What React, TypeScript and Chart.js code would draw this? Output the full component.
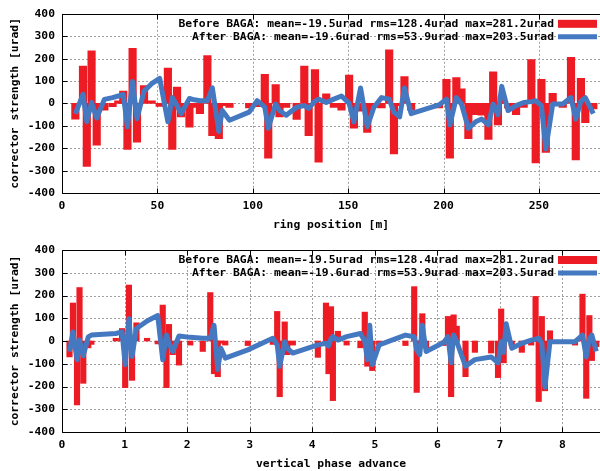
import React, { useEffect, useRef } from 'react';
import { Chart, registerables } from 'chart.js';

Chart.register(...registerables);

// corrector positions along the ring [m]
const ringPosition = [
  7.0, 11.0, 13.0, 15.5, 18.2, 22.2, 26.5, 29.5, 32.1, 34.3,
  37.0, 39.3, 43.0, 47.0, 51.2, 55.5, 57.8, 60.3, 62.4, 66.8,
  69.3, 72.3, 76.2, 78.8, 82.2, 84.0, 87.8, 98.1, 102.3, 106.3,
  108.1, 112.0, 114.0, 117.5, 123.0, 127.0, 129.3, 132.6, 134.5, 138.5,
  142.5, 146.5, 150.5, 153.0, 156.5, 160.0, 163.5, 167.5, 171.5, 174.0,
  177.0, 179.5, 183.0, 197.6, 201.5, 203.3, 206.7, 209.4, 213.0, 216.8,
  220.0, 223.5, 226.0, 228.5, 230.5, 233.8, 238.0, 242.0, 246.0, 248.3,
  251.3, 253.6, 257.2, 262.5, 266.8, 269.3, 272.0, 274.3, 278.5,
];

// vertical phase advance at each corrector
const phaseAdvance = [
  0.12, 0.175, 0.24, 0.28, 0.34, 0.42, 0.47, 0.86, 0.96, 1.01,
  1.07, 1.12, 1.19, 1.36, 1.53, 1.61, 1.67, 1.71, 1.77, 1.87,
  2.05, 2.25, 2.37, 2.43, 2.49, 2.54, 2.61, 2.97, 3.37, 3.44,
  3.48, 3.56, 3.6, 3.69, 4.09, 4.22, 4.26, 4.30, 4.33, 4.41,
  4.55, 4.77, 4.84, 4.88, 4.92, 4.96, 5.07, 5.49, 5.63, 5.67,
  5.72, 5.76, 5.82, 6.1, 6.17, 6.22, 6.26, 6.31, 6.45, 6.6,
  6.86, 6.97, 7.02, 7.06, 7.1, 7.19, 7.35, 7.5, 7.57, 7.62,
  7.67, 7.72, 7.8, 8.2, 8.32, 8.38, 8.43, 8.47, 8.54,
];

// corrector strength before BAGA [urad]
const strengthBefore = [
  -70, 167, -281, 235, -186, -30, -15, 12, 55, -205,
  246, -173, 80, 12, -13, 158, -205, 73, -60, -106,
  -18, -46, 213, -144, -157, -10, -18, -20, -15, 130,
  -245, 84, -60, -18, -72, 167, -144, 151, -262, 43,
  -18, -30, 127, -111, -35, -130, -18, -20, 239, -226,
  -10, 120, -30, -20, 108, -245, 115, 65, -157, -50,
  -53, -161, 141, -96, 30, -20, -50, -18, 196, -266,
  108, -219, 45, -18, 206, -252, 112, -86, -25,
];

// corrector strength after BAGA [urad]
const strengthAfter = [
  -46, 40, -82, 4, -65, 18, 26, 33, 40, -104,
  98, -68, 55, 88, 112, -82, 26, -10, -46, 22,
  16, 12, 12, 69, -125, -32, -75, -39, 12, -17,
  -111, -3, -32, -53, -17, -10, -22, 10, 19, 4,
  19, 33, 0, -82, 69, -104, -17, 26, 19, -40,
  -60, 69, -46, -7, 19, -96, 26, -3, -111, -82,
  -70, -96, -3, -50, 76, -32, -10, 4, 8, 12,
  -10, -203, -3, -3, 26, -70, 10, 26, -46,
];

const seriesLabels = [
  'Before BAGA: mean=-19.5urad rms=128.4urad max=281.2urad',
  'After BAGA: mean=-19.6urad rms=53.9urad max=203.5urad',
];
const yAxisTitle = 'corrector strength [urad]';
const topXTitle = 'ring position [m]';
const bottomXTitle = 'vertical phase advance';
const yRange = [-400, 400];
const yStep = 100;
const topXRange = [0, 282];
const topXStep = 50;
const bottomXRange = [0, 8.6];
const bottomXStep = 1;

const RED = '#ed1c24';
const BLUE = '#4479c1';
const FONT_FAMILY = '"DejaVu Sans Mono", monospace';
const FONT = { family: FONT_FAMILY, size: 11.35, weight: 'bold' as const, lineHeight: 1.2 };

const gnuplotDecor = {
  id: 'gnuplotDecor',
  beforeDatasetsDraw(chart: any) {
    const { ctx, chartArea: a, scales } = chart;
    ctx.save();
    ctx.strokeStyle = '#a0a0a0';
    ctx.lineWidth = 1;
    ctx.setLineDash([2, 2]);
    ctx.beginPath();
    for (const t of scales.x.ticks) {
      const px = Math.round(scales.x.getPixelForValue(t.value)) + 0.5;
      ctx.moveTo(px, a.top);
      ctx.lineTo(px, a.bottom);
    }
    for (const t of scales.y.ticks) {
      const py = Math.round(scales.y.getPixelForValue(t.value)) + 0.5;
      ctx.moveTo(a.left, py);
      ctx.lineTo(a.right, py);
    }
    ctx.stroke();
    ctx.restore();
  },
  afterDatasetsDraw(chart: any) {
    const { ctx, chartArea: a, scales } = chart;
    const L = Math.round(a.left) + 0.5;
    const T = Math.round(a.top) + 0.5;
    const B = Math.round(a.bottom) + 0.5;
    const R = a.right + 2;
    ctx.save();
    ctx.setLineDash([]);
    ctx.strokeStyle = '#000';
    ctx.lineWidth = 1;
    ctx.beginPath();
    ctx.moveTo(R, T);
    ctx.lineTo(L, T);
    ctx.lineTo(L, B);
    ctx.lineTo(R, B);
    for (const t of scales.y.ticks) {
      const py = Math.round(scales.y.getPixelForValue(t.value)) + 0.5;
      ctx.moveTo(L, py);
      ctx.lineTo(L + 5, py);
    }
    for (const t of scales.x.ticks) {
      const px = Math.round(scales.x.getPixelForValue(t.value)) + 0.5;
      ctx.moveTo(px, B);
      ctx.lineTo(px, B - 5);
      ctx.moveTo(px, T);
      ctx.lineTo(px, T + 5);
    }
    ctx.stroke();

    // key
    const ds = chart.data.datasets;
    const bars = ds.find((d: any) => d.type === 'bar');
    const line = ds.find((d: any) => d.type === 'line');
    const textRight = a.right - 46;
    const sx0 = a.right - 42;
    const sx1 = a.right - 3;
    ctx.font = `bold ${FONT.size}px ${FONT_FAMILY}`;
    ctx.fillStyle = '#000';
    ctx.textAlign = 'right';
    ctx.textBaseline = 'middle';
    const y1 = a.top + 10;
    const y2 = a.top + 23;
    ctx.fillText(bars.label, textRight, y1);
    ctx.fillText(line.label, textRight, y2);
    ctx.fillStyle = bars.backgroundColor;
    ctx.fillRect(sx0, y1 - 4, sx1 - sx0, 8);
    ctx.strokeStyle = line.borderColor;
    ctx.lineWidth = line.borderWidth;
    ctx.beginPath();
    ctx.moveTo(sx0, y2);
    ctx.lineTo(sx1, y2);
    ctx.stroke();
    ctx.restore();
  },
};

function makeConfig(
  xs: number[],
  xRange: number[],
  xStep: number,
  xTitle: string,
  barW: number,
  padTop: number,
  axisH: number,
  titlePadBottom: number,
): any {
  return {
    type: 'bar',
    data: {
      datasets: [
        {
          type: 'line',
          label: seriesLabels[1],
          data: xs.map((x, i) => ({ x, y: strengthAfter[i] })),
          borderColor: BLUE,
          borderWidth: 5,
          borderJoinStyle: 'round',
          pointRadius: 0,
          tension: 0,
          fill: false,
          order: 0,
        },
        {
          type: 'bar',
          label: seriesLabels[0],
          data: xs.map((x, i) => ({ x, y: strengthBefore[i] })),
          backgroundColor: RED,
          borderWidth: 0,
          barThickness: barW,
          order: 1,
        },
      ],
    },
    options: {
      responsive: false,
      maintainAspectRatio: false,
      animation: false,
      events: [],
      layout: { padding: { top: padTop, left: 0, right: 0, bottom: 0 } },
      plugins: { legend: { display: false }, tooltip: { enabled: false }, title: { display: false } },
      scales: {
        x: {
          type: 'linear',
          min: xRange[0],
          max: xRange[1],
          offset: false,
          grid: { display: false, drawTicks: false },
          border: { display: false },
          ticks: {
            stepSize: xStep,
            includeBounds: false,
            autoSkip: false,
            maxRotation: 0,
            padding: 6,
            color: '#000',
            font: FONT,
          },
          title: {
            display: true,
            text: xTitle,
            color: '#000',
            font: FONT,
            padding: { top: 0, bottom: titlePadBottom },
          },
          afterFit: (s: any) => {
            s.height = axisH;
          },
        },
        y: {
          type: 'linear',
          min: yRange[0],
          max: yRange[1],
          grid: { display: false, drawTicks: false },
          border: { display: false },
          ticks: {
            stepSize: yStep,
            padding: 7,
            color: '#000',
            font: FONT,
          },
          title: {
            display: true,
            text: yAxisTitle,
            color: '#000',
            font: FONT,
            padding: { top: 8.5, bottom: 0 },
          },
          afterFit: (s: any) => {
            s.width = 62;
          },
        },
      },
    },
    plugins: [gnuplotDecor],
  };
}

export default function App() {
  const topRef = useRef<HTMLCanvasElement>(null);
  const botRef = useRef<HTMLCanvasElement>(null);

  useEffect(() => {
    const c1 = new Chart(
      topRef.current!,
      makeConfig(ringPosition, topXRange, topXStep, topXTitle, 7.5, 10, 42, 3),
    );
    const c2 = new Chart(
      botRef.current!,
      makeConfig(phaseAdvance, bottomXRange, bottomXStep, bottomXTitle, 5.5, 15, 39, 0),
    );
    return () => {
      c1.destroy();
      c2.destroy();
    };
  }, []);

  return (
    <div style={{ position: 'absolute', left: 0, top: 0, width: 600, height: 471, background: '#fff' }}>
      <canvas ref={topRef} width={600} height={235} style={{ display: 'block', width: 600, height: 235 }} />
      <canvas ref={botRef} width={600} height={236} style={{ display: 'block', width: 600, height: 236 }} />
    </div>
  );
}
